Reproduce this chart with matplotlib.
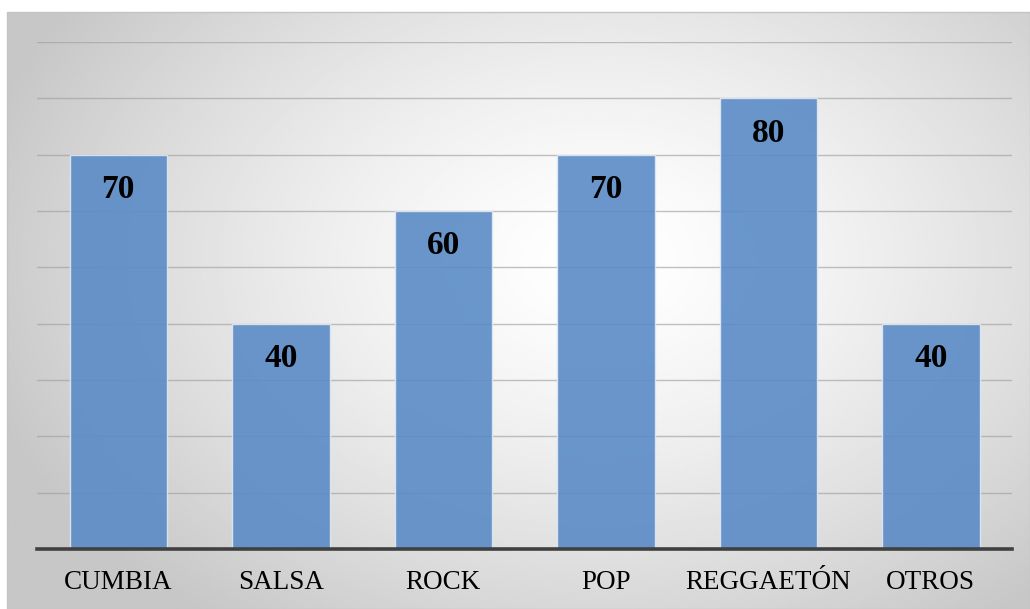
import numpy as np
import matplotlib.pyplot as plt
from matplotlib.patches import Rectangle

generos = ['CUMBIA', 'SALSA', 'ROCK', 'POP', 'REGGAETÓN', 'OTROS']
valores = [70, 40, 60, 70, 80, 40]

W, H = 1030, 609
fig = plt.figure(figsize=(W / 100, H / 100), dpi=100)

# fondo con degradado radial (zona del grafico)
bg = fig.add_axes([0, 0, 1, 1])
bg.set_xlim(0, W)
bg.set_ylim(H, 0)
bg.axis('off')
xx, yy = np.meshgrid(np.linspace(0, W, 400), np.linspace(0, H, 240))
d = np.sqrt(((xx - 600) / 600) ** 2 + ((yy - 260) / 420) ** 2)
g = np.clip(1.0 - 0.2 * d ** 1.4, 0.78, 1.0)
img = bg.imshow(g, cmap='gray', vmin=0, vmax=1, extent=[0, W, H, 0], aspect='auto')
clip = Rectangle((7, 12), W - 7, H - 12, transform=bg.transData)
img.set_clip_path(clip)
bg.add_patch(Rectangle((7, 12), W - 7, H - 12, fill=False, edgecolor='#c4c4c4', linewidth=1))

ax = fig.add_axes([37 / W, (H - 549) / H, (1012 - 37) / W, (549 - 42) / H])
ax.patch.set_visible(False)

x = np.arange(len(generos))
barras = ax.bar(x, valores, width=0.6, color='#5a8bc6', alpha=0.9,
                edgecolor='#e0e8f3', linewidth=1.0, zorder=3)

ax.set_ylim(0, 90)
ax.set_xlim(-0.5, len(generos) - 0.5)
ax.set_yticks(np.arange(10, 91, 10))
ax.yaxis.grid(True, color='#a0a0a0', linewidth=1.0, alpha=0.65, zorder=1)
ax.set_axisbelow(True)

for s in ['top', 'right', 'left']:
    ax.spines[s].set_visible(False)
ax.spines['bottom'].set_color('#404040')
ax.spines['bottom'].set_linewidth(2.6)
ax.spines['bottom'].set_zorder(5)

ax.tick_params(axis='both', which='both', length=0)
ax.set_yticklabels([])
ax.set_xticks(x)
ax.set_xticklabels(generos, fontsize=19.5, family='Liberation Serif')
ax.tick_params(axis='x', pad=15)

for b, v in zip(barras, valores):
    ax.annotate(str(v), (b.get_x() + b.get_width() / 2, v), xytext=(0, -25),
                textcoords='offset points', ha='center', va='center',
                fontsize=24, fontweight='bold', family='Liberation Serif', zorder=6)

fig.savefig('out.png', dpi=100)
